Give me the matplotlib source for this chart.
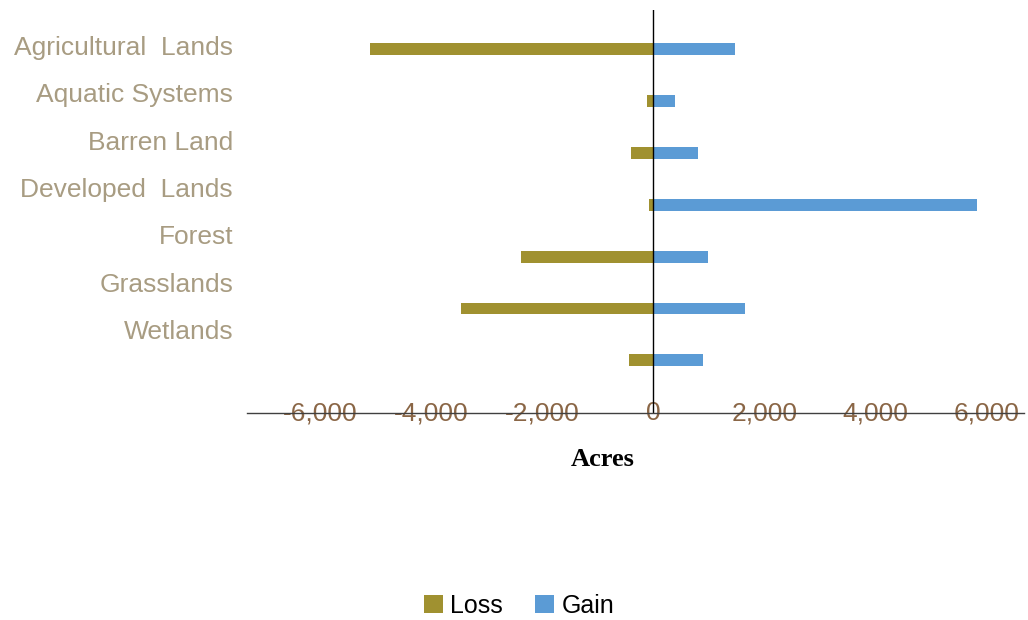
import numpy as np
import matplotlib
matplotlib.use('Agg')
import matplotlib.pyplot as plt

# data (acres)
categories = ['Agricultural  Lands', 'Aquatic Systems', 'Barren Land', 'Developed  Lands',
              'Forest', 'Grasslands', 'Wetlands']
loss = [-5100, -110, -410, -70, -2380, -3470, -430]
gain = [1470, 400, 810, 5830, 990, 1650, 890]
xticks = [-6000, -4000, -2000, 0, 2000, 4000, 6000]

LOSS_COLOR = '#A09130'
GAIN_COLOR = '#5B9BD5'
LABEL_COLOR = '#A89C82'
TICK_COLOR = '#8A6646'

W, H = 1028, 620
fig = plt.figure(figsize=(W / 100, H / 100), dpi=100)
plt.rcParams['font.family'] = ['Liberation Sans', 'DejaVu Sans']

# axes box in pixels: x 247..1024, y 10..413
left, right, top, bottom = 247, 1024, 10, 413
rect = [left / W, 1 - bottom / H, (right - left) / W, (bottom - top) / H]
ax = fig.add_axes(rect)

y = np.arange(len(categories))
ax.barh(y, loss, height=0.23, color=LOSS_COLOR, label='Loss')
ax.barh(y, gain, height=0.23, color=GAIN_COLOR, label='Gain')

# bar rows are spaced a bit wider than the category labels in the original
ax.set_ylim((bottom - 49.0) / 51.9, (top - 49.0) / 51.9)
ax.set_xlim(-7320, 6680)
ax.axvline(0, color='black', lw=1.0)

for s in ['top', 'right', 'left']:
    ax.spines[s].set_visible(False)
ax.spines['bottom'].set_color('#404040')
ax.spines['bottom'].set_linewidth(1.0)
ax.set_yticks([])
ax.set_xticks(xticks)
ax.set_xticklabels([f'{v:,}' for v in xticks])
ax.tick_params(axis='x', length=0, pad=0, labelsize=19, labelcolor=TICK_COLOR)
for lbl in ax.get_xticklabels():
    lbl.set_verticalalignment('center')

# category labels on their own (invisible) axes
ax2 = fig.add_axes(rect, frameon=False)
ax2.set_xlim(0, 1)
ax2.set_ylim((bottom - 45) / 47.5, (top - 45) / 47.5)
ax2.set_xticks([])
ax2.set_yticks(y)
ax2.set_yticklabels(categories)
ax2.tick_params(axis='y', length=0, pad=10, labelsize=19, labelcolor=LABEL_COLOR)
ax2.patch.set_visible(False)

fig.text(603 / W, 1 - 459 / H, 'Acres', ha='center', va='center',
         fontsize=19, fontweight='bold', family=['Liberation Serif', 'DejaVu Serif'])

fig.legend(loc='center', bbox_to_anchor=(519 / W, 1 - 606 / H), ncol=2, frameon=False,
           fontsize=18, handlelength=0.75, handleheight=0.75, handletextpad=0.3,
           columnspacing=1.3)

fig.savefig('out.png', dpi=100)
